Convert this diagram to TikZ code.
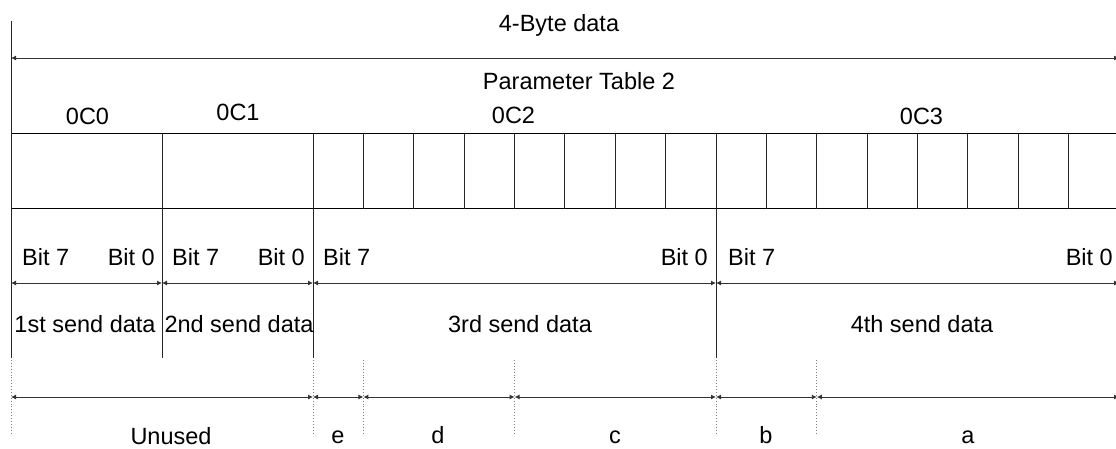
\documentclass[tikz,border=0pt]{standalone}
\usepackage{fontspec}
\setmainfont{Liberation Sans}
\usetikzlibrary{arrows.meta}
\begin{document}
\begin{tikzpicture}[x=1pt,y=-1pt,
  lbl/.style={font=\fontsize{23.5}{28}\selectfont, inner sep=0pt, anchor=base},
  lblw/.style={lbl, anchor=base west},
  lble/.style={lbl, anchor=base east},
  frame/.style={line width=1.2pt, black},
  cell/.style={line width=0.8pt, black!85},
  ext/.style={line width=1pt, black!85},
  dimline/.style={line width=0.9pt, black!80,
    {Latex[length=5pt,width=5pt]}-{Latex[length=5pt,width=5pt]}},
  guide/.style={line width=0.9pt, black!50, dotted},
]
\useasboundingbox (0,0) rectangle (1116,448);

% byte boundaries of the four table entries
\coordinate (x0) at (11,0);
\coordinate (x1) at (162,0);
\coordinate (x2) at (313,0);
\coordinate (x3) at (716,0);
\coordinate (x4) at (1119,0);
% bit-field boundaries inside 0C2 and 0C3
\coordinate (fe) at (363.4,0);
\coordinate (fd) at (514.6,0);
\coordinate (fb) at (816.8,0);

% overall span
\coordinate (topL) at (11,58);
\coordinate (topR) at (1119,58);
\draw[dimline] (topL) -- (topR);
\node[lbl] (bytes) at (559,31) {4-Byte data};
\node[lbl] (ptab) at (579,89.5) {Parameter Table 2};

% register names
\node[lbl] (r0) at (87.5,124.5) {0C0};
\node[lbl] (r1) at (238,120) {0C1};
\node[lbl] (r2) at (513.5,123) {0C2};
\node[lbl] (r3) at (921.5,124) {0C3};

% table body
\draw[frame] (11,133.5) -- (1119,133.5);
\draw[frame] (11,208.5) -- (1119,208.5);
\foreach \k in {1,...,7} {
  \draw[cell] (313+\k*50.375,133.5) -- (313+\k*50.375,208.5);
  \draw[cell] (716+\k*50.375,133.5) -- (716+\k*50.375,208.5);
}

% extension lines
\draw[ext] (11,20.5) -- (11,358);
\draw[ext] (162,133.5) -- (162,358);
\draw[ext] (313,133.5) -- (313,358);
\draw[ext] (716,133.5) -- (716,358);

% bit labels
\node[lblw] (b07) at (22,265) {Bit 7};
\node[lble] (b00) at (155,265) {Bit 0};
\node[lblw] (b17) at (172,265) {Bit 7};
\node[lble] (b10) at (305,265) {Bit 0};
\node[lblw] (b27) at (323,265) {Bit 7};
\node[lble] (b20) at (708,265) {Bit 0};
\node[lblw] (b37) at (728,265) {Bit 7};
\node[lble] (b30) at (1113,265) {Bit 0};

% byte spans
\coordinate (s0) at (11,283);
\coordinate (s1) at (162,283);
\coordinate (s2) at (313,283);
\coordinate (s3) at (716,283);
\coordinate (s4) at (1119,283);
\draw[dimline] (s0) -- (s1);
\draw[dimline] (s1) -- (s2);
\draw[dimline] (s2) -- (s3);
\draw[dimline] (s3) -- (s4);
\node[lbl] (d1) at (85,332) {1st send data};
\node[lbl] (d2) at (239,332) {2nd send data};
\node[lbl] (d3) at (520,332) {3rd send data};
\node[lbl] (d4) at (922,332) {4th send data};

% field guides
\foreach \gx in {11,313,363.4,514.6,716,816.8}
  \draw[guide] (\gx,360) -- (\gx,435);

% field spans
\coordinate (f0) at (11,397);
\coordinate (f1) at (313,397);
\coordinate (f2) at (363.4,397);
\coordinate (f3) at (514.6,397);
\coordinate (f4) at (716,397);
\coordinate (f5) at (816.8,397);
\coordinate (f6) at (1119,397);
\draw[dimline] (f0) -- (f1);
\draw[dimline] (f1) -- (f2);
\draw[dimline] (f2) -- (f3);
\draw[dimline] (f3) -- (f4);
\draw[dimline] (f4) -- (f5);
\draw[dimline] (f5) -- (f6);
\node[lbl] (fu) at (171,444) {Unused};
\node[lbl] (fle) at (338,443) {e};
\node[lbl] (fld) at (438,443) {d};
\node[lbl] (flc) at (615,443) {c};
\node[lbl] (flb) at (766,443) {b};
\node[lbl] (fla) at (968,443) {a};
\end{tikzpicture}
\end{document}
